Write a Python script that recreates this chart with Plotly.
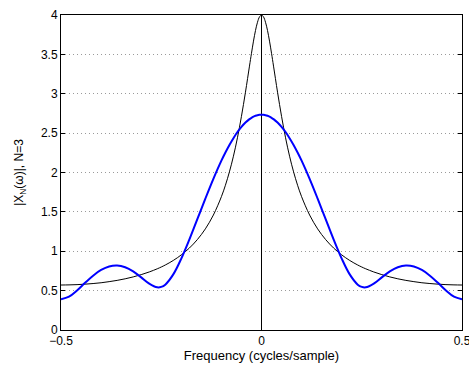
import plotly.graph_objects as go

# Normalised frequency (cycles/sample)
freq = [-0.50, -0.48, -0.46, -0.44, -0.42, -0.40, -0.38, -0.36, -0.34, -0.32,
        -0.30, -0.28, -0.26, -0.25, -0.24, -0.22, -0.20, -0.18, -0.16, -0.14,
        -0.12, -0.10, -0.09, -0.08, -0.07, -0.06, -0.05, -0.04, -0.03, -0.025,
        -0.02, -0.015, -0.01, -0.005, 0.0, 0.005, 0.01, 0.015, 0.02, 0.025,
        0.03, 0.04, 0.05, 0.06, 0.07, 0.08, 0.09, 0.10, 0.12, 0.14,
        0.16, 0.18, 0.20, 0.22, 0.24, 0.25, 0.26, 0.28, 0.30, 0.32,
        0.34, 0.36, 0.38, 0.40, 0.42, 0.44, 0.46, 0.48, 0.50]

# |X(w)| of the infinite-length sequence
full_mag = [0.571, 0.573, 0.576, 0.582, 0.590, 0.600, 0.614, 0.630, 0.650, 0.674,
            0.703, 0.737, 0.777, 0.800, 0.825, 0.883, 0.954, 1.040, 1.148, 1.284,
            1.460, 1.693, 1.838, 2.008, 2.207, 2.441, 2.713, 3.020, 3.351, 3.514,
            3.668, 3.803, 3.908, 3.976, 4.000, 3.976, 3.908, 3.803, 3.668, 3.514,
            3.351, 3.020, 2.713, 2.441, 2.207, 2.008, 1.838, 1.693, 1.460, 1.284,
            1.148, 1.040, 0.954, 0.883, 0.825, 0.800, 0.777, 0.737, 0.703, 0.674,
            0.650, 0.630, 0.614, 0.600, 0.590, 0.582, 0.576, 0.573, 0.571]

# |X_N(w)| of the truncated sequence, N = 3
trunc_mag = [0.391, 0.423, 0.502, 0.599, 0.690, 0.762, 0.807, 0.819, 0.797, 0.744,
             0.668, 0.589, 0.542, 0.547, 0.576, 0.706, 0.907, 1.148, 1.408, 1.668,
             1.919, 2.150, 2.254, 2.350, 2.436, 2.514, 2.580, 2.635, 2.678, 2.695,
             2.709, 2.720, 2.728, 2.732, 2.734, 2.732, 2.728, 2.720, 2.709, 2.695,
             2.678, 2.635, 2.580, 2.514, 2.436, 2.350, 2.254, 2.150, 1.919, 1.668,
             1.408, 1.148, 0.907, 0.706, 0.576, 0.547, 0.542, 0.589, 0.668, 0.744,
             0.797, 0.819, 0.807, 0.762, 0.690, 0.599, 0.502, 0.423, 0.391]

x_ticks = [-0.5, 0, 0.5]
x_tick_text = ["\u22120.5", "0", "0.5"]

FONT = "Liberation Sans, Arial, Helvetica, sans-serif"

fig = go.Figure()
fig.add_trace(go.Scatter(x=freq, y=full_mag, mode="lines",
                         line=dict(color="black", width=1, shape="spline"),
                         showlegend=False, hoverinfo="skip"))
fig.add_trace(go.Scatter(x=freq, y=trunc_mag, mode="lines",
                         line=dict(color="#0000ff", width=2, shape="spline"),
                         showlegend=False, hoverinfo="skip"))

axis_common = dict(showline=True, linecolor="black", linewidth=1, mirror="ticks",
                   ticks="inside", ticklen=4, tickcolor="black", tickwidth=1,
                   ticklabeloverflow="allow",
                   tickfont=dict(family=FONT, size=12, color="black"))

fig.update_xaxes(range=[-0.5, 0.5], tickmode="array", tickvals=x_ticks,
                 ticktext=x_tick_text, showgrid=False,
                 zeroline=True, zerolinecolor="black", zerolinewidth=1,
                 title=dict(text="Frequency (cycles/sample)",
                            font=dict(family=FONT, size=13, color="black"),
                            standoff=2),
                 **axis_common)
fig.update_yaxes(range=[0, 4], dtick=0.5, tick0=0, showgrid=True,
                 gridcolor="#9a9a9a", gridwidth=1, griddash="1px,3px",
                 zeroline=False,
                 title=dict(text="|X<sub>N</sub>(ω)|, N=3",
                            font=dict(family=FONT, size=12, color="black"),
                            standoff=14),
                 **axis_common)

fig.update_layout(width=469, height=365,
                  margin=dict(l=61, r=7, t=15, b=35, autoexpand=False),
                  paper_bgcolor="white", plot_bgcolor="white",
                  showlegend=False)

fig.write_html("out.html")
